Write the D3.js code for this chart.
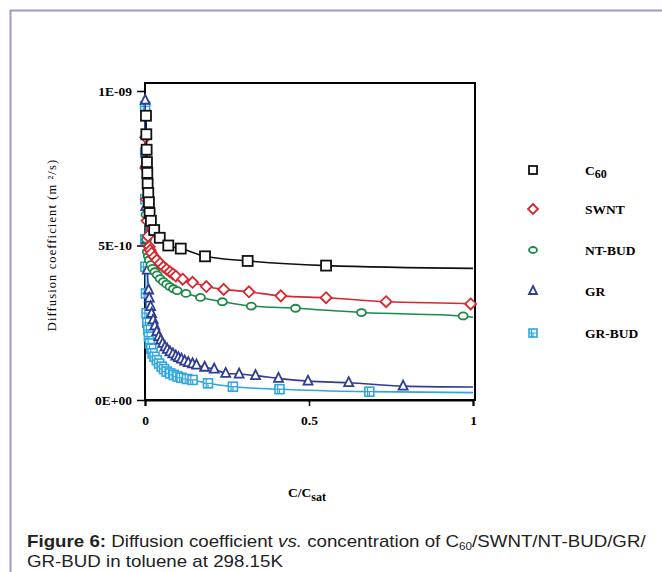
<!DOCTYPE html>
<html>
<head>
<meta charset="utf-8">
<title>Diffusion coefficient</title>
<script src="https://cdn.jsdelivr.net/npm/d3@7"></script>
<style>
  body { margin: 0; background: #fff; }
  svg { display: block; }
  .tk { font-family: "Liberation Serif", "Times New Roman", serif; font-weight: bold; font-size: 13.5px; }
</style>
</head>
<body>
<svg width="662" height="572"></svg>
<script>
// values, D in units of 1e-10 m2/s
var seriesNames = ["C60", "SWNT", "NT-BUD", "GR", "GR-BUD"];
var colors = ["#111111", "#d9262e", "#1d8a4a", "#2f3d96", "#2ea6de"];

var c60X = [0.003, 0.004, 0.005, 0.006, 0.007, 0.008, 0.010, 0.012, 0.014, 0.018, 0.028, 0.045, 0.071, 0.109, 0.183, 0.313, 0.552];
var c60Y = [9.2, 8.6, 8.1, 7.7, 7.35, 7.0, 6.7, 6.4, 6.05, 5.8, 5.5, 5.25, 5.0, 4.9, 4.65, 4.5, 4.35];

var swntX = [0.002, 0.003, 0.004, 0.006, 0.009, 0.013, 0.016, 0.020, 0.028, 0.036, 0.046, 0.056, 0.066, 0.076, 0.085, 0.094, 0.115, 0.145, 0.187, 0.240, 0.317, 0.414, 0.552, 0.735, 0.993];
var swntY = [8.5, 7.5, 6.5, 5.8, 5.3, 4.96, 4.85, 4.75, 4.63, 4.53, 4.42, 4.31, 4.23, 4.15, 4.08, 4.01, 3.91, 3.81, 3.67, 3.58, 3.50, 3.37, 3.31, 3.18, 3.11];

var ntbudX = [0.003, 0.005, 0.007, 0.010, 0.013, 0.018, 0.023, 0.030, 0.037, 0.046, 0.056, 0.066, 0.076, 0.087, 0.098, 0.125, 0.169, 0.236, 0.324, 0.459, 0.660, 0.970];
var ntbudY = [6.0, 5.2, 4.8, 4.65, 4.53, 4.38, 4.26, 4.15, 4.05, 3.93, 3.83, 3.75, 3.67, 3.60, 3.54, 3.45, 3.32, 3.18, 3.04, 2.97, 2.83, 2.72];

var grX = [0.0005, 0.001, 0.002, 0.004, 0.007, 0.011, 0.013, 0.017, 0.020, 0.025, 0.030, 0.036, 0.042, 0.048, 0.054, 0.061, 0.068, 0.076, 0.085, 0.094, 0.102, 0.111, 0.121, 0.132, 0.145, 0.157, 0.182, 0.211, 0.246, 0.287, 0.337, 0.407, 0.497, 0.621, 0.787];
var grY = [9.7, 7.66, 6.26, 5.18, 4.2, 3.56, 3.3, 3.02, 2.8, 2.59, 2.4, 2.21, 2.05, 1.94, 1.83, 1.72, 1.64, 1.56, 1.49, 1.42, 1.37, 1.32, 1.26, 1.21, 1.17, 1.13, 1.06, 1.0, 0.86, 0.84, 0.79, 0.70, 0.61, 0.56, 0.45];

var grbudX = [0.0004, 0.0006, 0.0008, 0.001, 0.0012, 0.003, 0.005, 0.007, 0.010, 0.012, 0.015, 0.019, 0.023, 0.029, 0.036, 0.043, 0.051, 0.058, 0.066, 0.077, 0.088, 0.099, 0.111, 0.128, 0.145, 0.192, 0.268, 0.410, 0.684];
var grbudY = [9.5, 8.0, 6.5, 5.2, 4.31, 3.45, 2.81, 2.5, 2.27, 2.05, 1.83, 1.66, 1.51, 1.40, 1.29, 1.18, 1.08, 1.0, 0.92, 0.86, 0.81, 0.76, 0.72, 0.68, 0.65, 0.54, 0.43, 0.35, 0.27];

// where each fitted curve meets C/Csat = 1
var fitEndY = [4.26, 3.07, 2.68, 0.42, 0.24];

var xTicks = [0, 0.5, 1];
var yTicks = [0, 5, 10];
var yTickLabels = ["0E+00", "5E-10", "1E-09"];

var svg = d3.select("svg");

// page frame
svg.append("path")
   .attr("d", "M10.5,572 V10.5 H662")
   .attr("fill", "none")
   .attr("stroke", "#a993cf")
   .attr("stroke-width", 2);

var x = d3.scaleLinear().domain([0, 1]).range([145, 473]);
var y = d3.scaleLinear().domain([0, 10]).range([400, 91]);

// frame around plot
svg.append("rect")
   .attr("x", 145).attr("y", 83)
   .attr("width", 330).attr("height", 317)
   .attr("fill", "none").attr("stroke", "#000").attr("stroke-width", 2);

var gx = svg.append("g")
   .attr("transform", "translate(0,400)")
   .call(d3.axisBottom(x).tickValues(xTicks).tickSize(6).tickPadding(9)
      .tickFormat(function(d) { return d === 0.5 ? "0.5" : d; }));
gx.select(".domain").attr("stroke-width", 2);
gx.selectAll("line").attr("stroke-width", 1.5);
gx.selectAll("text").attr("class", "tk").attr("font-size", null).attr("font-family", null);

var gy = svg.append("g")
   .attr("transform", "translate(145,0)")
   .call(d3.axisLeft(y).tickValues(yTicks).tickSize(8).tickPadding(5)
      .tickFormat(function(d, i) { return yTickLabels[i]; }));
gy.select(".domain").remove();
gy.selectAll("line").attr("stroke-width", 1.5);
gy.selectAll("text").attr("class", "tk").attr("font-size", null).attr("font-family", null);

var xs = [c60X, swntX, ntbudX, grX, grbudX];
var ys = [c60Y, swntY, ntbudY, grY, grbudY];

var line = d3.line()
   .x(function(d) { return x(d[0]); })
   .y(function(d) { return y(d[1]); })
   .curve(d3.curveMonotoneX);

function marker(g, k, size) {
  var c = colors[k], h = size / 2;
  if (k === 0) {
    g.append("rect").attr("x", -h).attr("y", -h).attr("width", size).attr("height", size)
     .attr("fill", "#fff").attr("stroke", c).attr("stroke-width", 1.8);
  } else if (k === 1) {
    g.append("path").attr("d", "M0," + (-h - 1) + " L" + (h + 1) + ",0 L0," + (h + 1) + " L" + (-h - 1) + ",0Z")
     .attr("fill", "#fff").attr("stroke", c).attr("stroke-width", 1.8);
  } else if (k === 2) {
    g.append("ellipse").attr("rx", h).attr("ry", h - 1)
     .attr("fill", "#fff").attr("stroke", c).attr("stroke-width", 1.8);
  } else if (k === 3) {
    g.append("path").attr("d", "M0," + (-h - 1) + " L" + h + "," + (h - 1) + " L" + (-h) + "," + (h - 1) + "Z")
     .attr("fill", "#fff").attr("stroke", c).attr("stroke-width", 1.8);
  } else {
    g.append("rect").attr("x", -h).attr("y", -h).attr("width", size).attr("height", size)
     .attr("fill", "#fff").attr("stroke", c).attr("stroke-width", 1.6);
    g.append("path").attr("d", "M" + (-h) + ",0 H" + h + " M0,0 V" + h + " M" + (-h * 0.4) + "," + (-h) + " V" + h)
     .attr("fill", "none").attr("stroke", c).attr("stroke-width", 1.2);
  }
}

// draw in reverse so black sits on top
for (var k = 4; k >= 0; k--) {
  var pts = xs[k].map(function(v, i) { return [v, ys[k][i]]; });
  var curve = pts.slice(); curve.push([1, fitEndY[k]]);
  svg.append("path").datum(curve)
     .attr("d", line)
     .attr("fill", "none").attr("stroke", colors[k]).attr("stroke-width", 1.6);
  var g = svg.append("g");
  pts.forEach(function(p) {
    var m = g.append("g").attr("transform", "translate(" + x(p[0]) + "," + y(p[1]) + ")");
    marker(m, k, k === 0 ? 10 : 9);
  });
}

// legend
var legY = [170, 209, 250, 291, 333];
seriesNames.forEach(function(name, k) {
  var m = svg.append("g").attr("transform", "translate(533," + legY[k] + ")");
  marker(m, k, 8);
  var t = svg.append("text").attr("class", "tk").attr("x", 585).attr("y", legY[k] + 5);
  if (k === 0) {
    t.text("C");
    t.append("tspan").attr("dy", 3).attr("font-size", 12).text("60");
  } else {
    t.text(name);
  }
});

// axis titles
var xl = svg.append("text").attr("class", "tk").attr("x", 307).attr("y", 497)
   .attr("text-anchor", "middle").attr("font-size", 14).text("C/C");
xl.append("tspan").attr("dy", 4).attr("font-size", 12).text("sat");

svg.append("text")
   .attr("transform", "translate(56,245) rotate(-90)")
   .attr("text-anchor", "middle")
   .attr("font-family", "Liberation Serif, serif")
   .attr("font-size", 12.5)
   .attr("letter-spacing", 1.1)
   .text("Diffusion coefficient (m ²/s)");

// caption, stretched a little to match the source
var capG = svg.append("g").attr("transform", "translate(27,0) scale(1.17,1)");
var cap = capG.append("text").attr("x", 0).attr("y", 547)
   .attr("font-family", "Liberation Sans, Arial, sans-serif").attr("font-size", 16).attr("fill", "#222");
cap.append("tspan").attr("font-weight", "bold").text("Figure 6:");
cap.append("tspan").text(" Diffusion coefficient ");
cap.append("tspan").attr("font-style", "italic").text("vs.");
cap.append("tspan").text(" concentration of C");
cap.append("tspan").attr("dy", 3).attr("font-size", 10).text("60");
cap.append("tspan").attr("dy", -3).text("/SWNT/NT-BUD/GR/");
capG.append("text").attr("x", 0).attr("y", 567)
   .attr("font-family", "Liberation Sans, Arial, sans-serif").attr("font-size", 16).attr("fill", "#222")
   .text("GR-BUD in toluene at 298.15K");
</script>
</body>
</html>
